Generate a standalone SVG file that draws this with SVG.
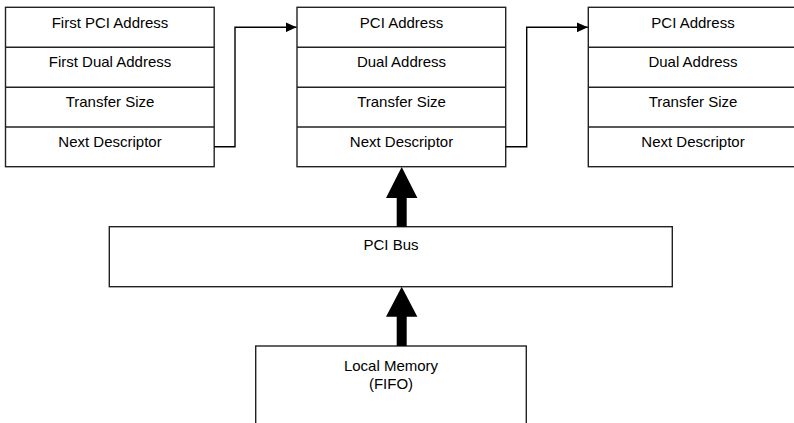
<svg xmlns="http://www.w3.org/2000/svg" width="794" height="423" viewBox="0 0 794 423">
<style>
.box{fill:#fff;stroke:#222;stroke-width:1.4}
.ln{fill:none;stroke:#222;stroke-width:1.4}
.t{font-family:"Liberation Sans",Arial,sans-serif;font-size:15px;fill:#000;text-anchor:middle}
.conn{fill:none;stroke:#000;stroke-width:1.4}
.big{fill:#000;stroke:none}
</style>
<defs>
<marker id="ah" markerWidth="11" markerHeight="10" refX="11" refY="5" orient="auto" markerUnits="userSpaceOnUse">
<path d="M0,0 L11,5 L0,10 Z" fill="#000"/>
</marker>
</defs>
<rect width="794" height="423" fill="#fff"/>
<g id="desc1">
<rect class="box" x="5.5" y="7.3" width="208.7" height="159.4"/>
<line class="ln" x1="5.5" y1="47.3" x2="214.2" y2="47.3"/>
<line class="ln" x1="5.5" y1="87.3" x2="214.2" y2="87.3"/>
<line class="ln" x1="5.5" y1="127" x2="214.2" y2="127"/>
<text class="t" x="110" y="27.5">First PCI Address</text>
<text class="t" x="110" y="67">First Dual Address</text>
<text class="t" x="110" y="106.5">Transfer Size</text>
<text class="t" x="110" y="146.5">Next Descriptor</text>
</g>
<g id="desc2">
<rect class="box" x="297" y="7.3" width="208.7" height="159.4"/>
<line class="ln" x1="297" y1="47.3" x2="505.7" y2="47.3"/>
<line class="ln" x1="297" y1="87.3" x2="505.7" y2="87.3"/>
<line class="ln" x1="297" y1="127" x2="505.7" y2="127"/>
<text class="t" x="401.5" y="27.5">PCI Address</text>
<text class="t" x="401.5" y="67">Dual Address</text>
<text class="t" x="401.5" y="106.5">Transfer Size</text>
<text class="t" x="401.5" y="146.5">Next Descriptor</text>
</g>
<g id="desc3">
<rect class="box" x="588.3" y="7.3" width="208.7" height="159.4"/>
<line class="ln" x1="588.3" y1="47.3" x2="797" y2="47.3"/>
<line class="ln" x1="588.3" y1="87.3" x2="797" y2="87.3"/>
<line class="ln" x1="588.3" y1="127" x2="797" y2="127"/>
<text class="t" x="693" y="27.5">PCI Address</text>
<text class="t" x="693" y="67">Dual Address</text>
<text class="t" x="693" y="106.5">Transfer Size</text>
<text class="t" x="693" y="146.5">Next Descriptor</text>
</g>
<g id="pcibus">
<rect class="box" x="109.3" y="226.7" width="563" height="60"/>
<text class="t" x="391" y="250">PCI Bus</text>
</g>
<g id="localmem">
<rect class="box" x="255.7" y="346" width="270.6" height="90"/>
<text class="t" x="391" y="370.5">Local Memory</text>
<text class="t" x="391" y="389">(FIFO)</text>
</g>
<g id="connectors">
<polyline class="conn" points="214.2,146.7 235,146.7 235,27.3 296.5,27.3" marker-end="url(#ah)"/>
<polyline class="conn" points="505.7,146.7 526.7,146.7 526.7,27.3 587.8,27.3" marker-end="url(#ah)"/>
<path class="big" d="M396.7,226.7 L396.7,198 L386,198 L401.7,167 L417.4,198 L406.7,198 L406.7,226.7 Z"/>
<path class="big" d="M396.7,346 L396.7,316.7 L386,316.7 L401.7,286.7 L417.4,316.7 L406.7,316.7 L406.7,346 Z"/>
</g>
</svg>
